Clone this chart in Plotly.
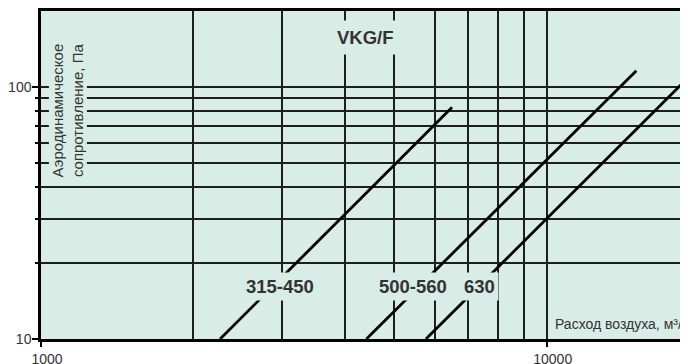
import math
import plotly.graph_objects as go

# ---- data ----
flow_315_450 = [2260, 6500]
dp_315_450 = [10, 83]
flow_500_560 = [4400, 15040]
dp_500_560 = [10, 116]
flow_630 = [5770, 20000]
dp_630 = [10, 120]

series_names = ["315-450", "500-560", "630"]
x_grid_vals = [1000, 2000, 3000, 4000, 5000, 6000, 7000, 8000, 9000, 10000]
y_grid_vals = [10, 20, 30, 40, 50, 60, 70, 80, 90, 100]
x_major = [1000, 10000]
x_major_text = ["1000", "10000"]
y_major = [10, 100]
y_major_text = ["10", "100"]
x_minor = [v for v in x_grid_vals if v not in x_major]
y_minor = [v for v in y_grid_vals if v not in y_major]

BG = "#d9ede7"
GRID = "#1e1e1e"
TXT = "#333333"
FONT = "Liberation Sans, Arial, sans-serif"

# the page body has an 8px margin, so the figure is drawn 8px in from the
# top-left corner of the window; size and margins compensate for that
fig = go.Figure()
for fx, fy, nm in [(flow_315_450, dp_315_450, series_names[0]),
                   (flow_500_560, dp_500_560, series_names[1]),
                   (flow_630, dp_630, series_names[2])]:
    fig.add_trace(go.Scatter(x=fx, y=fy, mode="lines", name=nm,
                             line=dict(color="#000000", width=2.8),
                             showlegend=False, hoverinfo="skip"))

fig.update_layout(
    width=680, height=356,
    margin=dict(l=33, r=0, t=3, b=25.3, autoexpand=False),
    paper_bgcolor="white", plot_bgcolor=BG,
    font=dict(family=FONT, size=14, color=TXT),
)

fig.update_xaxes(
    type="log", range=[3, 3 + 647 / 505.7],
    tickmode="array", tickvals=x_major, ticktext=x_major_text,
    ticks="outside", ticklen=5, tickwidth=2, tickcolor="#000",
    showgrid=True, gridcolor=GRID, gridwidth=2,
    minor=dict(tickmode="array", tickvals=x_minor, showgrid=True,
               gridcolor=GRID, gridwidth=2, ticks=""),
    showline=True, linecolor="#000", linewidth=2.5, mirror=True,
    zeroline=False, ticklabelshift=6,
    tickfont=dict(size=14, color=TXT, family=FONT),
)
fig.update_yaxes(
    type="log", range=[1, math.log10(200)],
    tickmode="array", tickvals=y_major, ticktext=y_major_text,
    ticks="outside", ticklen=6, tickwidth=1.5, tickcolor="#000",
    showgrid=True, gridcolor=GRID, gridwidth=2,
    minor=dict(tickmode="array", tickvals=y_minor, showgrid=True,
               gridcolor=GRID, gridwidth=2, ticks="outside", ticklen=3,
               tickcolor="#000", tickwidth=1.5),
    showline=True, linecolor="#000", linewidth=2.5, mirror=False,
    zeroline=False, ticklabelstandoff=-2,
    tickfont=dict(size=14, color=TXT, family=FONT),
)

# helpers: window pixel -> paper fraction of the plot area (41..688, 11..338.7)
def px_x(px):
    return (px - 41) / 647.0

def px_y(py):
    return (338.7 - py) / 327.7

bold = dict(family=FONT, size=18.5, color=TXT, weight="bold")
fig.add_annotation(text="VKG/F", xref="paper", yref="paper",
                   x=px_x(365.5), y=px_y(37), xanchor="center", yanchor="middle",
                   showarrow=False, font=bold, bgcolor=BG, borderpad=6)
label_pos = [279.5, 413, 479.5]
for nm, cx in zip(series_names, label_pos):
    fig.add_annotation(text=nm, xref="paper", yref="paper",
                       x=px_x(cx), y=px_y(286.7), xanchor="center", yanchor="middle",
                       showarrow=False, font=bold, bgcolor=BG, borderpad=3)

fig.add_annotation(text="Аэродинамическое<br>сопротивление, Па",
                   xref="paper", yref="paper", x=px_x(67.5), y=px_y(111),
                   xanchor="center", yanchor="middle",
                   textangle=-90, showarrow=False,
                   font=dict(family=FONT, size=15, color=TXT),
                   bgcolor=BG, borderpad=0)
fig.add_annotation(text="Расход воздуха, м³/ч", xref="paper", yref="paper",
                   x=px_x(553), y=px_y(324), xanchor="left", yanchor="middle",
                   showarrow=False,
                   font=dict(family=FONT, size=14, color=TXT))

fig.write_html("out.html")
